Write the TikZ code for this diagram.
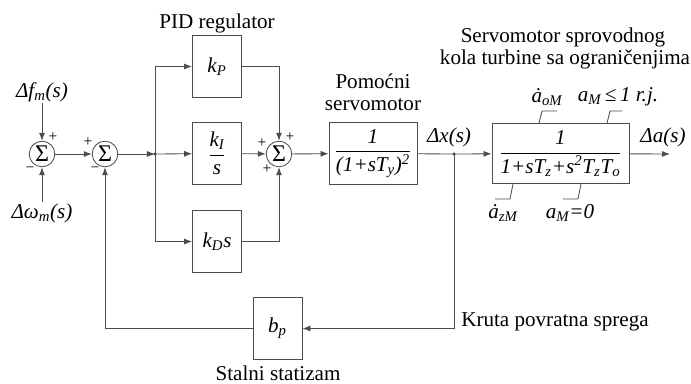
\documentclass[tikz,border=0pt]{standalone}
\usepackage{fontspec}
\IfFontExistsTF{LiberationSerif-Regular.ttf}
  {\setmainfont{LiberationSerif}[Extension=.ttf, UprightFont=*-Regular,
     BoldFont=*-Bold, ItalicFont=*-Italic, BoldItalicFont=*-BoldItalic]}
  {\setmainfont{Liberation Serif}}
\usepackage{amsmath}
\usetikzlibrary{arrows.meta, positioning, calc}

\begin{document}
\begin{tikzpicture}[
  x=0.025cm, y=-0.025cm,
  font=\rmfamily\fontsize{15}{18}\selectfont,
  blk/.style={rectangle, draw=black!70, semithick, fill=white,
              minimum width=1.225cm, minimum height=1.55cm, align=center, inner sep=1pt},
  sumc/.style={circle, draw=black!70, semithick, fill=white, font=\fontsize{17}{17}\selectfont,
               minimum size=0.64cm, inner sep=0pt},
  sgn/.style={font=\fontsize{11}{11}\selectfont, inner sep=0pt},
  mlbl/.style={font=\fontsize{15}{18}\selectfont\itshape, inner sep=1pt},
  ttl/.style={anchor=base, inner sep=0pt},
  arr/.style={-{Latex[length=2mm, width=1.5mm]}, semithick, draw=black!70},
  ln/.style={semithick, draw=black!70}
]
\useasboundingbox (0,0) rectangle (691,383);
%% nodes
\node[sumc] (sum1) at (42,154)  {Σ};
\node[sumc] (sum2) at (105,154) {Σ};
\node[sumc] (sum3) at (279,154) {Σ};
\node[blk]  (kp)   at (217,66.5) {\textit{k\textsubscript{P}}};
\node[blk]  (ki)   at (217,153.5) {$\dfrac{\textit{k\textsubscript{I}}}{\textit{s}}$};
\node[blk]  (kd)   at (217,241.5) {\textit{k\textsubscript{D}s}};
\node[blk, minimum width=2.2cm] (servo) at (373,153.5)
  {$\dfrac{\textit{1}}{\textit{(1+sT\textsubscript{y})\textsuperscript{2}}}$};
\node[blk, minimum width=3.425cm, minimum height=1.5cm] (turb) at (560.5,153.5)
  {$\dfrac{\textit{1}}{\textit{1+sT\textsubscript{z}+s\textsuperscript{2}T\textsubscript{z}T\textsubscript{o}}}$};
\node[blk] (bp) at (277.5,328.5) {\textit{b\textsubscript{p}}};
%% labels
\node[mlbl] (df)  at (42,92)  {Δf\textsubscript{m}(s)};
\node[mlbl] (dw)  at (42,213) {Δω\textsubscript{m}(s)};
\node[mlbl] (dx)  at (449,137) {Δx(s)};
\node[mlbl] (da)  at (663,137) {Δa(s)};
\node[ttl] (pid)  at (217,28) {PID regulator};
\node[anchor=south, inner sep=0pt, align=center, font=\fontsize{15}{16}\selectfont]
  (pom) at (373,111) {Pomoćni\\servomotor};
\node[ttl] (ttl1) at (563,42) {Servomotor sprovodnog};
\node[ttl] (ttl2) at (565,64) {kola turbine sa ograničenjima};
\node[anchor=west, inner sep=0pt] (kru) at (461,322) {Kruta povratna sprega};
\node (stat) at (278,373) {Stalni statizam};
\node[mlbl] (aom) at (547,97)  {\.{a}\textsubscript{oM}};
\node[mlbl] (amx) at (618,97)  {a\textsubscript{M}\,≤\,1 r.j.};
\node[mlbl] (azm) at (503,213) {\.{a}\textsubscript{zM}};
\node[mlbl] (amn) at (570,213) {a\textsubscript{M}=0};
%% signs
\node[sgn] at (53,137)  {+};
\node[sgn] at (30,170)  {−};
\node[sgn] at (88,142)  {+};
\node[sgn] at (95,170)  {−};
\node[sgn] at (290,137) {+};
\node[sgn] at (262,143) {+};
\node[sgn] at (267,169) {+};
%% coordinates
\coordinate (br1) at (155,154);
\coordinate (br2) at (454,154);
\coordinate (out) at (670,154);
%% arrows
\draw[arr] (df) -- (sum1);
\draw[arr] (dw) -- (sum1);
\draw[arr] (sum1) -- (sum2);
\draw[arr] (sum2) -- (br1);
\draw[arr] (br1) |- (kp.west);
\draw[arr] (br1) -- (ki);
\draw[arr] (br1) |- (kd.west);
\draw[arr] (kp.east) -| (sum3.north);
\draw[arr] (ki) -- (sum3);
\draw[arr] (kd.east) -| (sum3.south);
\draw[arr] (sum3) -- (servo);
\draw[ln]  (servo) -- (br2);
\draw[arr] (br2) -- (turb);
\draw[arr] (turb) -- (out);
\draw[arr] (br2) |- (bp.east);
\draw[arr] (bp.west) -| (sum2.south);
\fill[black!75] (br1) circle (1.6);
\fill[black!75] (br2) circle (1.6);
%% limit marks
\draw[ln] (539,123) -- (542,111) -- (557,111);
\draw[ln] (607,123) -- (610,111) -- (622,111);
\draw[ln] (495,199) -- (510,199) -- (513,184);
\draw[ln] (563,199) -- (578,199) -- (581,184);
\end{tikzpicture}
\end{document}
